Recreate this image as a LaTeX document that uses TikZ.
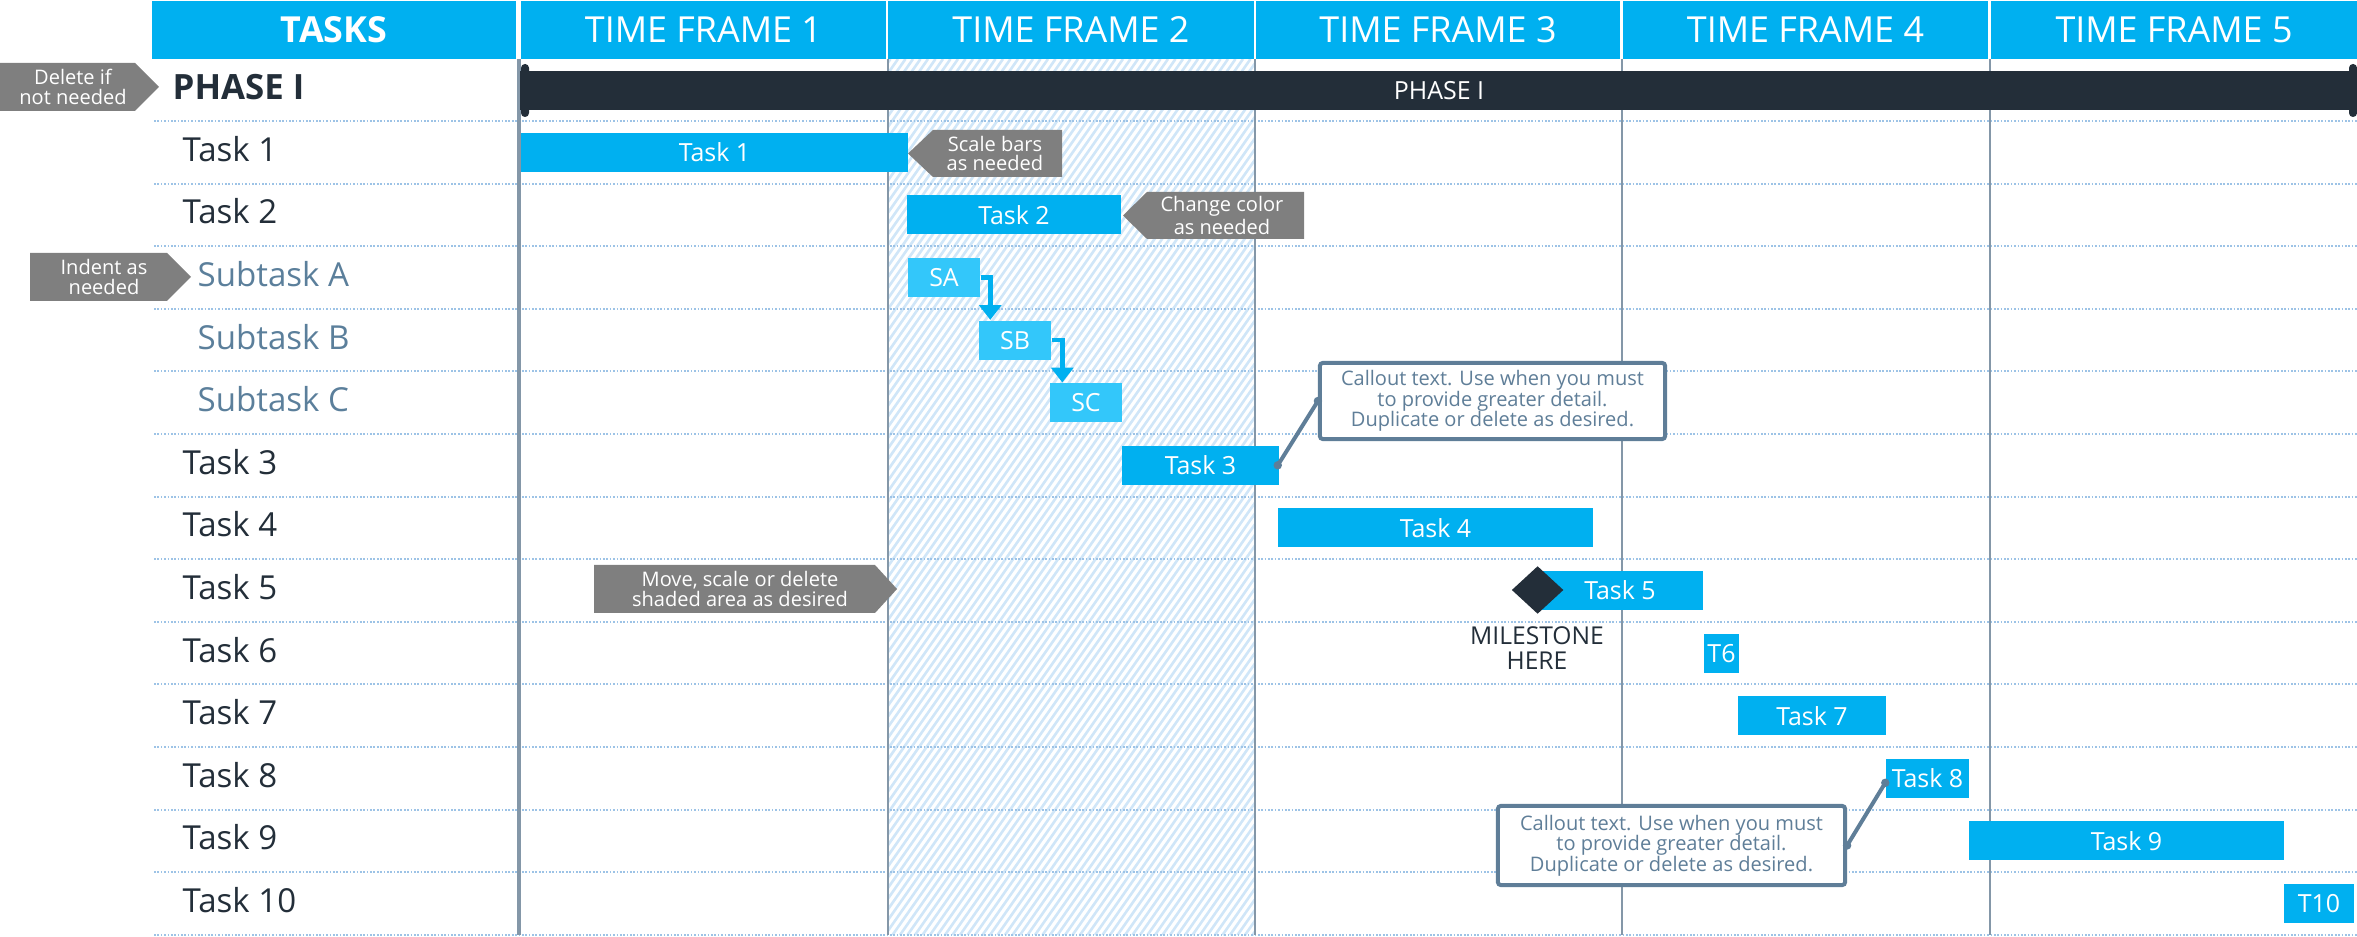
\documentclass[tikz,border=0pt]{standalone}
\usepackage{fontspec}
\setmainfont{Open Sans}
\usetikzlibrary{arrows.meta,calc,shapes.geometric}
\definecolor{hdrblue}{HTML}{00B0F0}
\definecolor{dnavy}{HTML}{232E39}
\definecolor{cgray}{HTML}{7F7F7F}
\definecolor{subtxt}{HTML}{5B7F9B}
\definecolor{gridc}{HTML}{8497A8}
\definecolor{dotc}{HTML}{9DC3E6}
\definecolor{hatchc}{HTML}{D0E6F8}
\definecolor{sbcol}{HTML}{33C7FA}
\definecolor{cline}{HTML}{5F7E98}
\newcommand\fsz[2]{\fontsize{#1}{#2}\selectfont}
\begin{document}
\begin{tikzpicture}[x=0.01cm,y=-0.01cm,
  hdr/.style={fill=hdrblue, text=white, inner sep=0, minimum height=0.58cm, font=\fsz{10.2}{12}},
  taskbar/.style={fill=hdrblue, text=white, inner sep=0, minimum height=0.39cm, font=\fsz{7.1}{8}},
  subbarbox/.style={taskbar, fill=sbcol},
  rowlbl/.style={anchor=base west, inner sep=0, text=dnavy, font=\fsz{9.4}{11}},
  sublbl/.style={rowlbl, text=subtxt},
  gnote/.style={text=white, align=center, inner sep=0, font=\fsz{5.7}{5.5}},
  callbox/.style={draw=cline, line width=1.13pt, fill=white, rounded corners=0.8pt, inner sep=0, text=cline, align=center, font=\fsz{5.7}{5.8}},
  callline/.style={draw=cline, line width=1.13pt},
  calldot/.style={fill=cline},
  deparrow/.style={draw=hdrblue, line width=1.3pt, -{Triangle[width=6.2pt,length=4.2pt]}},
  rowline/.style={draw=dotc, line width=0.6pt, dash pattern=on 0.48pt off 0.48pt},
  vline/.style={draw=gridc, line width=0.6pt},
  gshape/.style={fill=cgray}
]
\useasboundingbox (0,0) rectangle (2357,937);

% hatched area
\begin{scope}
  \clip (888,59) rectangle (1254,935);
  \foreach \i in {0,...,134} \draw[hatchc, line width=0.75pt] ({270+\i*7.5},935) -- ++(613,-876);
\end{scope}

% row lines
\foreach \k in {0,...,13} \draw[rowline] (154,{121+62.6*\k}) -- (2357,{121+62.6*\k});

% vertical lines
\draw[vline, line width=1.4pt] (519,59) -- (519,935);
\foreach \x in {888,1255,1622,1990} \draw[vline] (\x,59) -- (\x,935);

% header
\node[hdr, minimum width=3.64cm, font=\bfseries\fsz{10.2}{12}] (hT) at (334,30) {TASKS};
\node[hdr, minimum width=3.65cm] (h1) at (703.5,30) {TIME FRAME 1};
\node[hdr, minimum width=3.66cm] (h2) at (1071,30) {TIME FRAME 2};
\node[hdr, minimum width=3.64cm] (h3) at (1438,30) {TIME FRAME 3};
\node[hdr, minimum width=3.65cm] (h4) at (1805.5,30) {TIME FRAME 4};
\node[hdr, minimum width=3.66cm] (h5) at (2174,30) {TIME FRAME 5};

% phase bar
\node[taskbar, fill=dnavy, minimum width=18.36cm] (ph) at (1439,90.5) {PHASE I};
\fill[dnavy, rounded corners=1.1pt] (521,64) rectangle (529,117);
\fill[dnavy, rounded corners=1.1pt] (2349,64) rectangle (2357,117);

% row labels
\node[rowlbl, font=\bfseries\fsz{9.9}{11}] (lp) at (172,100) {PHASE I};
\node[rowlbl] (l1) at (182,161.3) {Task 1};
\node[rowlbl] (l2) at (182,223.9) {Task 2};
\node[sublbl] (la) at (197,286.5) {Subtask A};
\node[sublbl] (lb) at (197,349.1) {Subtask B};
\node[sublbl] (lc) at (197,411.7) {Subtask C};
\node[rowlbl] (l3) at (182,474.3) {Task 3};
\node[rowlbl] (l4) at (182,536.9) {Task 4};
\node[rowlbl] (l5) at (182,599.5) {Task 5};
\node[rowlbl] (l6) at (182,662.1) {Task 6};
\node[rowlbl] (l7) at (182,724.7) {Task 7};
\node[rowlbl] (l8) at (182,787.3) {Task 8};
\node[rowlbl] (l9) at (182,849.9) {Task 9};
\node[rowlbl] (l10) at (182,912.5) {Task 10};

% bars
\node[taskbar, minimum width=3.87cm] (t1) at (714.5,152.3) {Task 1};
\node[taskbar, minimum width=2.14cm] (t2) at (1014,214.9) {Task 2};
\node[subbarbox, minimum width=0.72cm] (sa) at (944,277.5) {SA};
\node[subbarbox, minimum width=0.72cm] (sb) at (1015,340.1) {SB};
\node[subbarbox, minimum width=0.72cm] (sc) at (1086,402.7) {SC};
\node[taskbar, minimum width=1.57cm] (t3) at (1200.5,465.3) {Task 3};
\node[taskbar, minimum width=3.15cm] (t4) at (1435.5,527.9) {Task 4};
\node[taskbar, minimum width=1.66cm] (t5) at (1620,590.5) {Task 5};
\node[taskbar, minimum width=0.35cm] (t6) at (1721.5,653.1) {T6};
\node[taskbar, minimum width=1.48cm] (t7) at (1812,715.7) {Task 7};
\node[taskbar, minimum width=0.83cm] (t8) at (1927.5,778.3) {Task 8};
\node[taskbar, minimum width=3.15cm] (t9) at (2126.5,840.9) {Task 9};
\node[taskbar, minimum width=0.70cm] (t10) at (2319,903.5) {T10};

% dependency arrows
\draw[deparrow] (sa.east) -| ($(sb.north west)+(12,0)$);
\draw[deparrow] (sb.east) -| ($(sc.north west)+(13,0)$);

% milestone
\node[diamond, fill=dnavy, minimum width=0.52cm, minimum height=0.48cm, inner sep=0] (ms) at (1537.6,590) {};
\node[align=center, text=dnavy, font=\fsz{7}{7.1}, inner sep=0] (msl) at (1537,648) {MILESTONE\\HERE};

% gray notes
\fill[gshape] (0,63) -- (135,63) -- (159,87) -- (135,111) -- (0,111) -- cycle;
\node[gnote] (ndel) at (73,87) {Delete if\\not needed};
\fill[gshape] (30,253) -- (167,253) -- (191,277) -- (167,301) -- (30,301) -- cycle;
\node[gnote] (nind) at (104,277) {Indent as\\needed};
\fill[gshape] (908,153.5) -- (933,130) -- (1062,130) -- (1062,177) -- (933,177) -- cycle;
\node[gnote] (nscl) at (995,153.5) {Scale bars\\as needed};
\fill[gshape] (1123,215.5) -- (1147,192) -- (1304,192) -- (1304,239) -- (1147,239) -- cycle;
\node[gnote] (nchg) at (1222,215.5) {Change color\\as needed};
\fill[gshape] (594,565) -- (875,565) -- (897,589) -- (875,613) -- (594,613) -- cycle;
\node[gnote] (nmov) at (740,589) {Move, scale or delete\\shaded area as desired};

% callouts
\node[callbox, minimum width=3.45cm, minimum height=0.76cm] (c1) at (1492.5,401) {Callout text. Use when you must\\to provide greater detail.\\Duplicate or delete as desired.};
\draw[callline] (c1.west) -- ([xshift=-0.02cm]t3.east);
\fill[calldot] (c1.west) circle (1.2pt);
\fill[calldot] ([xshift=-0.02cm]t3.east) circle (1.2pt);
\node[callbox, minimum width=3.47cm, minimum height=0.79cm] (c2) at (1671.5,845.5) {Callout text. Use when you must\\to provide greater detail.\\Duplicate or delete as desired.};
\draw[callline] (c2.east) -- ([yshift=-0.045cm]t8.west);
\fill[calldot] (c2.east) circle (1.2pt);
\fill[calldot] ([yshift=-0.045cm]t8.west) circle (1.2pt);
\end{tikzpicture}
\end{document}
